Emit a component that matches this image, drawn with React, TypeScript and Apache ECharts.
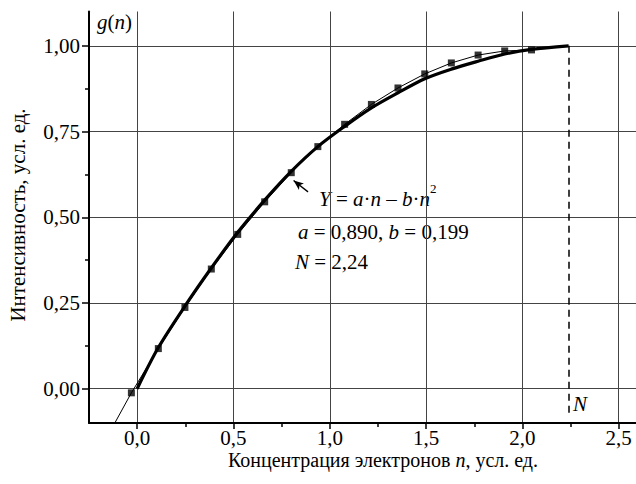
import React, { useEffect, useRef } from 'react';
import * as echarts from 'echarts';

// Axis ticks
const xTickValues = [0, 0.5, 1.0, 1.5, 2.0, 2.5];
const xMinorTickValues = [0.25, 0.75, 1.25, 1.75, 2.25];
const yTickValues = [0, 0.25, 0.5, 0.75, 1.0];
const yMinorTickValues = [0.125, 0.375, 0.625, 0.875];
const xRange = [-0.25, 2.6];
const yRange = [-0.1, 1.1];

// Measured points (squares)
const pointN = [-0.03, 0.11, 0.248, 0.385, 0.522, 0.662, 0.8, 0.938, 1.077, 1.216, 1.354, 1.493, 1.631, 1.77, 1.908, 2.047];
const pointG = [-0.012, 0.117, 0.237, 0.349, 0.45, 0.545, 0.63, 0.706, 0.771, 0.829, 0.877, 0.918, 0.95, 0.973, 0.985, 0.988];
// lead-in of the thin line (runs out of the plot at the bottom)
const thinLeadN = [-0.116];
const thinLeadG = [-0.1];

// Thick fitted curve
const fitN = [0, 0.11, 0.259, 0.385, 0.522, 0.662, 0.8, 0.938, 1.077, 1.216, 1.354, 1.493, 1.631, 1.77, 1.908, 2.047, 2.24];
const fitG = [0, 0.12, 0.25, 0.352, 0.456, 0.55, 0.634, 0.706, 0.765, 0.819, 0.863, 0.904, 0.932, 0.955, 0.976, 0.9895, 1.0];

// N marker
const bigN = 2.24;
const dashTop = 1.0;
const dashBottom = -0.075;
// arrow to formula
const arrowFrom = [0.887, 0.574];
const arrowTo = [0.812, 0.607];

const FONT = 'Liberation Serif';

export default function App() {
  const ref = useRef<HTMLDivElement>(null);
  useEffect(() => {
    if (!ref.current) return;
    const chart = echarts.init(ref.current, undefined, { renderer: 'svg' });
    const thinData = [
      ...thinLeadN.map((n, i) => [n, thinLeadG[i]]),
      ...pointN.map((n, i) => [n, pointG[i]]),
    ];
    const pts = pointN.map((n, i) => [n, pointG[i]]);
    const fit = fitN.map((n, i) => [n, fitG[i]]);
    const fmtX = (v: number) => '{r|' + v.toFixed(1).replace('.', ',') + '}';
    const fmtY = (v: number) => '{r|' + v.toFixed(2).replace('.', ',') + '}';
    const txt = (size: number) => ({ fontFamily: FONT, fontSize: size, fill: '#000' });
    const itx = (size: number) => ({ fontFamily: FONT, fontSize: size, fontStyle: 'italic', fill: '#000' });
    const rich21 = { i: itx(21), r: txt(21) };
    const rich20 = { i: itx(20), r: txt(20) };
    const labelRich = { r: { fontFamily: FONT, fontSize: 21, color: '#000' } };

    chart.setOption({
      animation: false,
      backgroundColor: '#fff',
      textStyle: { fontFamily: FONT },
      grid: { left: 89, top: 11.5, width: 549, height: 411.5, containLabel: false, outerBoundsMode: 'none' },
      xAxis: [
        {
          type: 'value', position: 'bottom', min: xRange[0], max: xRange[1],
          axisLine: { show: true, onZero: false, lineStyle: { color: '#000', width: 2 } },
          axisTick: { show: true, customValues: xTickValues, length: 6, lineStyle: { color: '#000', width: 1.5 } },
          axisLabel: { customValues: xTickValues, formatter: fmtX, rich: labelRich, color: '#000', fontFamily: FONT, fontSize: 21, margin: 4 },
          splitLine: { show: true, lineStyle: { color: '#444', width: 1 } },
        },
        {
          type: 'value', position: 'bottom', min: xRange[0], max: xRange[1],
          axisLine: { show: false, onZero: false },
          axisTick: { show: true, customValues: xMinorTickValues, length: 4, lineStyle: { color: '#000', width: 1.5 } },
          axisLabel: { show: false },
          splitLine: { show: false },
        },
      ],
      yAxis: [
        {
          type: 'value', position: 'left', min: yRange[0], max: yRange[1],
          axisLine: { show: true, onZero: false, lineStyle: { color: '#000', width: 2 } },
          axisTick: { show: true, customValues: yTickValues, length: 7, lineStyle: { color: '#000', width: 1.5 } },
          axisLabel: { customValues: yTickValues, formatter: fmtY, rich: labelRich, color: '#000', fontFamily: FONT, fontSize: 21, margin: 9 },
          splitLine: { show: true, lineStyle: { color: '#444', width: 1 } },
        },
        {
          type: 'value', position: 'left', min: yRange[0], max: yRange[1],
          axisLine: { show: false, onZero: false },
          axisTick: { show: true, customValues: yMinorTickValues, length: 4, lineStyle: { color: '#000', width: 1.5 } },
          axisLabel: { show: false },
          splitLine: { show: false },
        },
      ],
      series: [
        {
          type: 'line', xAxisIndex: 0, yAxisIndex: 0, data: thinData, showSymbol: false, symbol: 'none',
          lineStyle: { color: '#000', width: 1 }, z: 2, silent: true,
        },
        {
          type: 'scatter', xAxisIndex: 0, yAxisIndex: 0, data: pts, symbol: 'rect', symbolSize: 7,
          itemStyle: { color: '#000' }, z: 4, silent: true,
        },
        {
          type: 'line', xAxisIndex: 0, yAxisIndex: 0, data: fit, smooth: 0.3, showSymbol: false, symbol: 'none',
          lineStyle: { color: '#000', width: 3.2 }, z: 3, silent: true,
          markLine: {
            silent: true, animation: false, label: { show: false },
            data: [
              [
                { coord: [bigN, dashTop], symbol: 'none', lineStyle: { type: [7, 5], color: '#000', width: 1.5 } },
                { coord: [bigN, dashBottom], symbol: 'none' },
              ],
              [
                { coord: arrowFrom, symbol: 'none', lineStyle: { type: 'solid', color: '#000', width: 1.3 } },
                { coord: arrowTo, symbol: 'arrow', symbolSize: [6, 10] },
              ],
            ],
          },
        },
      ],
      graphic: [
        {
          type: 'text', x: 97, y: 22,
          style: { text: '{i|g}{r|(}{i|n}{r|)}', rich: rich21, ...txt(21), verticalAlign: 'middle', align: 'left' },
        },
        {
          type: 'text', x: 319, y: 199,
          style: {
            text: '{i|Y}{r| = }{i|a}{r|·}{i|n}{r| – }{i|b}{r|·}{i|n}',
            rich: rich21, ...txt(21), verticalAlign: 'middle', align: 'left',
          },
        },
        {
          type: 'text', x: 430, y: 188,
          style: { text: '{s|2}', rich: { s: txt(13) }, ...txt(13), verticalAlign: 'middle', align: 'left' },
        },
        {
          type: 'text', x: 298, y: 232,
          style: {
            text: '{i|a}{r| = 0,890, }{i|b}{r| = 0,199}',
            rich: rich21, ...txt(21), verticalAlign: 'middle', align: 'left',
          },
        },
        {
          type: 'text', x: 295, y: 262,
          style: {
            text: '{i|N}{r| = 2,24}',
            rich: rich21, ...txt(21), verticalAlign: 'middle', align: 'left',
          },
        },
        {
          type: 'text', x: 573, y: 404,
          style: { text: '{i|N}', rich: rich21, ...itx(21), verticalAlign: 'middle', align: 'left' },
        },
        {
          type: 'text', x: 383, y: 460,
          style: {
            text: '{r|Концентрация электронов }{i|n}{r|, усл. ед.}',
            rich: rich20, ...txt(20), verticalAlign: 'middle', align: 'center',
          },
        },
        {
          type: 'text', x: 18, y: 215, rotation: Math.PI / 2,
          style: { text: '{r|Интенсивность, усл. ед.}', rich: rich21, ...txt(21), verticalAlign: 'middle', align: 'center' },
        },
      ],
    });
    return () => chart.dispose();
  }, []);
  return <div ref={ref} style={{ position: 'fixed', left: 0, top: 0, width: 636, height: 484, background: '#fff' }} />;
}
